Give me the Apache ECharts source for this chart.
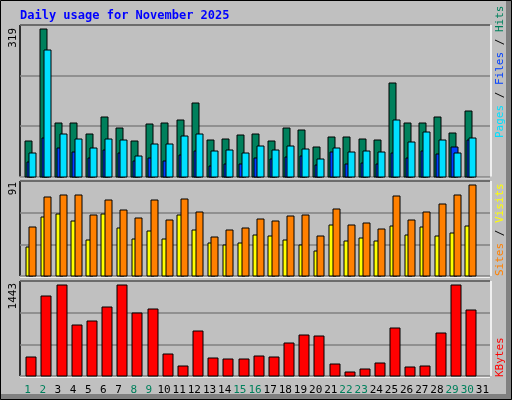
<!DOCTYPE html>
<html lang="en">
<head>
<meta charset="UTF-8">
<title>Daily usage for November 2025</title>
<style>
    * { margin: 0; padding: 0; }
    #chart { width: 512px; height: 400px; background: #c0c0c0; }
</style>
<script src="https://cdn.jsdelivr.net/npm/echarts@6/dist/echarts.min.js"></script>
</head>
<body>
<div id="chart"></div>
<script>
var days = ['1','2','3','4','5','6','7','8','9','10','11','12','13','14','15','16','17','18','19','20','21','22','23','24','25','26','27','28','29','30','31'];
var weekend = ['1','2','8','9','15','16','22','23','29','30'];
var hits   = [76,319,115,115,92,128,104,76,113,115,122,159,79,81,89,92,76,104,100,63,85,85,81,79,202,115,115,128,94,141,0];
var files  = [50,273,92,81,61,81,79,44,70,70,87,92,55,57,50,66,57,66,59,37,61,53,55,53,122,74,96,79,50,83,0];
var pages  = [32,84,61,53,40,57,50,33,40,33,46,55,22,27,27,40,37,42,44,24,53,27,29,27,50,40,55,48,63,79,0];
var sites  = [29,59,62,55,36,62,48,37,45,37,61,46,33,31,33,41,40,36,31,25,51,35,38,35,50,41,49,40,43,50,0];
var visits = [49,79,81,81,61,76,66,58,76,56,77,64,39,46,48,57,55,60,61,40,67,51,53,47,80,56,64,72,81,91,0];
var kbytes = [305,1269,1443,811,874,1095,1443,1001,1064,353,163,716,290,274,274,321,305,527,653,637,195,68,116,211,764,147,163,685,1443,1048,0];

var chart = echarts.init(document.getElementById('chart'));

// bar drawn at offset from category centre, fixed pixel width
function barSeries(data, grid, color, dx, w, z) {
    return {
        type: 'custom', xAxisIndex: grid, yAxisIndex: grid, z: z,
        data: data.map(function (v, i) { return [i, v]; }),
        renderItem: function (params, api) {
            if (!api.value(1)) return;
            var top = api.coord([api.value(0), api.value(1)]);
            var base = api.coord([api.value(0), 0]);
            return {
                type: 'rect',
                shape: { x: Math.round(top[0] + dx), y: Math.round(top[1]), width: w, height: Math.round(base[1]) - Math.round(top[1]) },
                style: { fill: color, stroke: '#000', lineWidth: 1 }
            };
        }
    };
}

var grids = [
    { left: 20, right: 22, top: 25, height: 151.5 },
    { left: 20, right: 22, top: 181, height: 95 },
    { left: 20, right: 22, top: 281, height: 95 }
];
var maxes = [328, 94.6, 1501];

var font = 'DejaVu Sans Mono';
function panelFrame(g) {
    var x0 = 20, x1 = 490, y0 = g.top, y1 = g.top + g.height;
    return [
        { type: 'line', shape: { x1: x0, y1: y0, x2: x1, y2: y0 }, style: { stroke: '#000', lineWidth: 1.5 } },
        { type: 'line', shape: { x1: x0, y1: y0, x2: x0, y2: y1 }, style: { stroke: '#000', lineWidth: 1.5 } },
        { type: 'line', shape: { x1: x0, y1: y1 + 1, x2: x1, y2: y1 + 1 }, style: { stroke: '#fff', lineWidth: 1.5 } },
        { type: 'line', shape: { x1: x1 + 1, y1: y0, x2: x1 + 1, y2: y1 }, style: { stroke: '#fff', lineWidth: 1.5 } }
    ];
}
function sideText(x, y, align, text, rich) {
    return { type: 'text', x: x, y: y, rotation: Math.PI / 2, z: 10,
        style: { text: text, rich: rich, font: '11px ' + font, align: align, verticalAlign: 'middle', fill: '#000' } };
}

var graphics = [
    { type: 'rect', shape: { x: 506, y: 0, width: 6, height: 400 }, style: { fill: '#808080' } },
    { type: 'rect', shape: { x: 0, y: 394, width: 512, height: 6 }, style: { fill: '#808080' } },
    { type: 'rect', shape: { x: 0.5, y: 0.5, width: 511, height: 399 }, style: { fill: 'none', stroke: '#000', lineWidth: 1 } },
    { type: 'text', x: 20, y: 16, style: { text: 'Daily usage for November 2025', font: 'bold 12px ' + font, fill: '#0000ff', verticalAlign: 'middle' } },
    sideText(13, 28, 'right', '319'),
    sideText(13, 182, 'right', '91'),
    sideText(13, 283, 'right', '1443'),
    sideText(500, 138, 'left', '{p|Pages}{s| / }{f|Files}{s| / }{h|Hits}', {
        p: { fill: '#00e0ff', font: '11px ' + font }, f: { fill: '#0040ff', font: '11px ' + font },
        h: { fill: '#00805c', font: '11px ' + font }, s: { fill: '#000', font: '11px ' + font } }),
    sideText(500, 276, 'left', '{a|Sites}{s| / }{b|Visits}', {
        a: { fill: '#ff8000', font: '11px ' + font }, b: { fill: '#ffff00', font: '11px ' + font },
        s: { fill: '#000', font: '11px ' + font } }),
    sideText(500, 377, 'left', '{k|KBytes}', { k: { fill: '#ff0000', font: '11px ' + font } })
];
grids.forEach(function (g) { graphics = graphics.concat(panelFrame(g)); });

var option = {
    backgroundColor: '#c0c0c0',
    animation: false,
    grid: grids,
    xAxis: grids.map(function (g, i) {
        return {
            type: 'category', gridIndex: i, data: days,
            axisLine: { show: false }, axisTick: { show: false },
            axisLabel: i < 2 ? { show: false } : {
                margin: 9, interval: 0, fontFamily: font, fontSize: 11,
                formatter: function (v) { return weekend.indexOf(v) >= 0 ? '{w|' + v + '}' : '{n|' + v + '}'; },
                rich: { w: { color: '#00805c', fontFamily: font, fontSize: 11 }, n: { color: '#000', fontFamily: font, fontSize: 11 } }
            }
        };
    }),
    yAxis: grids.map(function (g, i) {
        return {
            type: 'value', gridIndex: i, min: 0, max: maxes[i], interval: maxes[i] / 3,
            axisLine: { show: false }, axisTick: { show: false }, axisLabel: { show: false },
            splitLine: { lineStyle: { color: '#808080', width: 1.5 } }
        };
    }),
    series: [
        barSeries(hits, 0, '#00805c', -2.6, 7, 2),
        barSeries(pages, 0, '#0040ff', -0.6, 7, 3),
        barSeries(files, 0, '#00e0ff', 1.7, 7, 4),
        barSeries(sites, 1, '#ffff00', -1.9, 7, 2),
        barSeries(visits, 1, '#ff8000', 1.7, 7, 3),
        barSeries(kbytes, 2, '#ff0000', -1.3, 10, 2)
    ],
    graphic: graphics
};
chart.setOption(option);
</script>
</body>
</html>
